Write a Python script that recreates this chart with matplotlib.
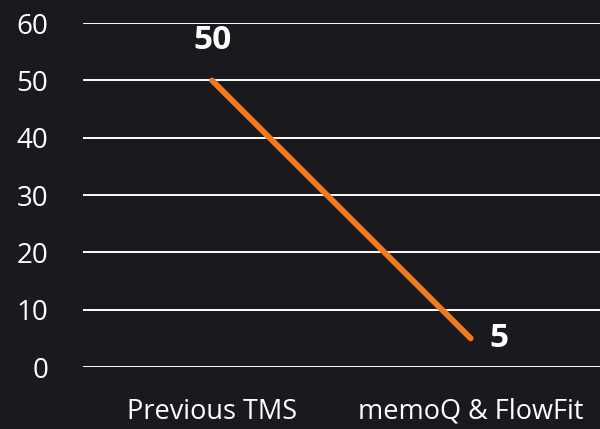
import matplotlib
matplotlib.use("Agg")
import matplotlib.pyplot as plt

# chart data
categories = ["Previous TMS", "memoQ & FlowFit"]
values = [50, 5]
y_ticks = [0, 10, 20, 30, 40, 50, 60]

BG = "#1a191e"
ORANGE = "#f07a1f"

plt.rcParams["font.family"] = ["Open Sans", "DejaVu Sans"]

fig = plt.figure(figsize=(6, 4.29), dpi=100, facecolor=BG)
ax = fig.add_axes([0.138, 0.1445, 0.862, 0.8015], facecolor=BG)

# horizontal gridlines
for t in y_ticks:
    ax.axhline(t, color="white", linewidth=1.4, zorder=1)

x = list(range(len(categories)))
ax.plot(x, values, color=ORANGE, linewidth=4.2, solid_capstyle="round", zorder=3)

# data labels
ax.annotate(str(values[0]), (x[0], values[0]), xytext=(0, 40), textcoords="offset pixels",
            ha="center", va="center", color="white", fontsize=24, fontweight="bold")
ax.annotate(str(values[1]), (x[1], values[1]), xytext=(28, 0), textcoords="offset pixels",
            ha="center", va="center", color="white", fontsize=24, fontweight="bold")

ax.set_xlim(-0.5, 1.5)
ax.set_ylim(0, 60)
ax.set_yticks(y_ticks)
ax.set_xticks(x)
ax.set_xticklabels(categories)
ax.tick_params(axis="both", length=0, colors="white", labelsize=20)
ax.tick_params(axis="x", labelsize=19.5, pad=22)
ax.tick_params(axis="y", pad=25)
for s in ax.spines.values():
    s.set_visible(False)

plt.savefig("out.png", facecolor=BG)
